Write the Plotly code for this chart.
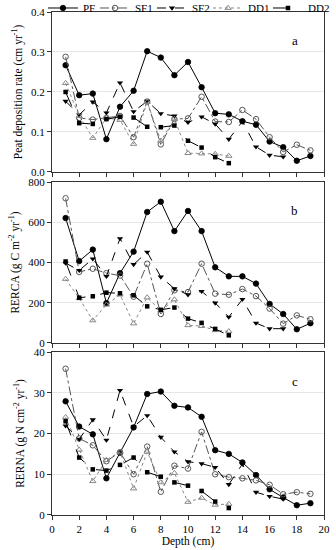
import plotly.graph_objects as go

depth = list(range(1, 20))

# Panel a: peat deposition rate (cm yr-1)
PF_a = [0.267, 0.192, 0.196, 0.082, 0.163, 0.203, 0.302, 0.286, 0.242, 0.275, 0.212, 0.147, 0.144, 0.127, 0.118, 0.076, 0.062, 0.028, 0.040]
SF1_a = [0.288, 0.135, 0.131, 0.135, 0.140, 0.087, 0.176, 0.069, 0.132, 0.134, 0.188, 0.126, 0.125, 0.155, 0.132, 0.087, 0.050, 0.068, 0.054]
SF2_a = [0.177, 0.143, 0.175, 0.148, 0.223, 0.151, 0.177, 0.146, 0.140, 0.124, 0.138, 0.120, 0.082, 0.126, 0.063, 0.042, 0.038]
DD1_a = [0.222, 0.140, 0.085, 0.135, 0.130, 0.070, 0.175, 0.078, 0.132, 0.047, 0.046, 0.045, 0.040]
DD2_a = [0.200, 0.122, 0.120, 0.132, 0.138, 0.136, 0.113, 0.112, 0.116, 0.078, 0.061, 0.037, 0.022]

# Panel b: RERCA (g C m-2 yr-1)
PF_b = [621, 407, 464, 198, 347, 454, 651, 702, 556, 656, 556, 376, 331, 331, 295, 194, 144, 68, 98]
SF1_b = [719, 353, 369, 347, 335, 230, 394, 144, 262, 253, 394, 245, 240, 268, 233, 171, 96, 137, 118]
SF2_b = [397, 361, 418, 331, 519, 390, 452, 328, 270, 240, 257, 199, 129, 217, 99, 71, 71]
DD1_b = [318, 222, 112, 190, 240, 97, 226, 160, 216, 88, 84, 63, 58]
DD2_b = [405, 225, 232, 250, 247, 237, 182, 165, 176, 121, 100, 70, 38]

# Panel c: RERNA (g N cm-2 yr-1)
PF_c = [27.9, 21.7, 19.8, 9.0, 15.3, 21.5, 29.7, 30.3, 26.8, 26.4, 24.1, 15.9, 15.0, 12.9, 9.8, 6.3, 4.3, 2.4, 2.9]
SF1_c = [35.9, 18.8, 17.1, 13.2, 15.4, 10.0, 16.8, 5.7, 12.1, 11.4, 20.4, 10.0, 9.3, 9.0, 8.5, 7.4, 5.1, 5.6, 5.2]
SF2_c = [21.9, 18.6, 23.4, 18.4, 30.6, 21.7, 24.4, 19.1, 15.5, 13.1, 12.6, 11.7, 7.5, 12.5, 5.6, 4.6, 3.9]
DD1_c = [24.0, 16.0, 8.3, 13.5, 15.5, 6.5, 15.5, 8.0, 10.3, 3.2, 4.2, 2.5, 2.7]
DD2_c = [23.0, 14.1, 11.2, 10.9, 12.3, 14.1, 10.5, 9.4, 8.0, 7.2, 5.9, 3.3, 1.7]

series_names = ["PF", "SF1", "SF2", "DD1", "DD2"]
panel_data = [
    [PF_a, SF1_a, SF2_a, DD1_a, DD2_a],
    [PF_b, SF1_b, SF2_b, DD1_b, DD2_b],
    [PF_c, SF1_c, SF2_c, DD1_c, DD2_c],
]
panel_letters = ["a", "b", "c"]
y_titles = [
    "Peat deposition rate (cm yr<sup>-1</sup>)",
    "RERCA (g C m<sup>-2</sup> yr<sup>-1</sup>)",
    "RERNA (g N cm<sup>-2</sup> yr<sup>-1</sup>)",
]
y_ranges = [[0, 0.4], [0, 800], [0, 40]]
y_dticks = [0.1, 200, 10]
y_formats = [".1f", "d", "d"]

styles = {
    "PF": dict(line=dict(color="black", width=1, dash="solid"),
               marker=dict(symbol="circle", size=5.5, color="black", line=dict(color="black", width=0.8))),
    "SF1": dict(line=dict(color="#555555", width=1, dash="dashdot"),
                marker=dict(symbol="circle-open", size=5.5, color="#555555", line=dict(width=1))),
    "SF2": dict(line=dict(color="black", width=1, dash="dash"),
                marker=dict(symbol="triangle-down", size=5.5, color="black")),
    "DD1": dict(line=dict(color="#888888", width=1, dash="dot"),
                marker=dict(symbol="triangle-up-open", size=5.5, color="#888888", line=dict(width=1))),
    "DD2": dict(line=dict(color="black", width=1, dash="longdash"),
                marker=dict(symbol="square", size=4.5, color="black")),
}
# legend entry text widths (px) controlling spacing between legend entries
legend_widths = {"PF": 7, "SF1": 12, "SF2": 11, "DD1": 15, "DD2": 21}

font_family = "Liberation Serif, Times New Roman, serif"
fig = go.Figure()

domains = [[0.682, 1.0], [0.342, 0.662], [0.0, 0.324]]

for p in range(3):
    xa = "x" if p == 0 else f"x{p+1}"
    ya = "y" if p == 0 else f"y{p+1}"
    for name, vals in zip(series_names, panel_data[p]):
        st = styles[name]
        fig.add_trace(go.Scatter(
            x=depth[:len(vals)], y=vals, mode="lines+markers", name=name,
            line=st["line"], marker=st["marker"], xaxis=xa, yaxis=ya,
            showlegend=(p == 0), legendgroup=name, legendwidth=legend_widths[name],
        ))

layout = dict(
    width=336, height=550,
    margin=dict(l=52, r=12, t=12, b=35, autoexpand=False),
    paper_bgcolor="white", plot_bgcolor="white",
    font=dict(family=font_family, size=11, color="black"),
    hovermode=False,
    showlegend=True,
    legend=dict(orientation="h", x=-0.0331, xanchor="left", y=1.0368, yanchor="top",
                font=dict(size=11, family=font_family),
                bgcolor="rgba(0,0,0,0)", itemwidth=30, tracegroupgap=0,
                traceorder="normal"),
)

for p in range(3):
    xkey = "xaxis" if p == 0 else f"xaxis{p+1}"
    ykey = "yaxis" if p == 0 else f"yaxis{p+1}"
    xa_anchor = "y" if p == 0 else f"y{p+1}"
    ya_anchor = "x" if p == 0 else f"x{p+1}"
    layout[xkey] = dict(
        domain=[0, 1], anchor=xa_anchor, range=[0, 20], dtick=2, tick0=0,
        showline=True, linecolor="#333333", linewidth=1, mirror=True,
        ticks="outside", ticklen=4, tickcolor="#333333",
        showgrid=False, zeroline=False,
        showticklabels=(p == 2),
        tickfont=dict(size=11),
    )
    if p == 2:
        layout[xkey]["title"] = dict(text="Depth (cm)", font=dict(size=11.5), standoff=2)
    if p > 0:
        layout[xkey]["matches"] = "x"
    layout[ykey] = dict(
        domain=domains[p], anchor=ya_anchor, range=y_ranges[p], dtick=y_dticks[p], tick0=0,
        tickformat=y_formats[p],
        showline=True, linecolor="#333333", linewidth=1, mirror=True,
        ticks="outside", ticklen=4, tickcolor="#333333",
        showgrid=True, gridcolor="#e6e6e6", gridwidth=1, zeroline=False,
        tickfont=dict(size=11),
        title=dict(text=y_titles[p], font=dict(size=11.5), standoff=6),
    )

fig.update_layout(**layout)

for p in range(3):
    xr = "x domain" if p == 0 else f"x{p+1} domain"
    yr = "y domain" if p == 0 else f"y{p+1} domain"
    fig.add_annotation(text=panel_letters[p], xref=xr, yref=yr, x=0.91, y=0.88,
                       showarrow=False, font=dict(size=13, family=font_family))

fig.write_html("out.html", config={"displayModeBar": False},
               post_script="document.body.style.margin='0px';")
